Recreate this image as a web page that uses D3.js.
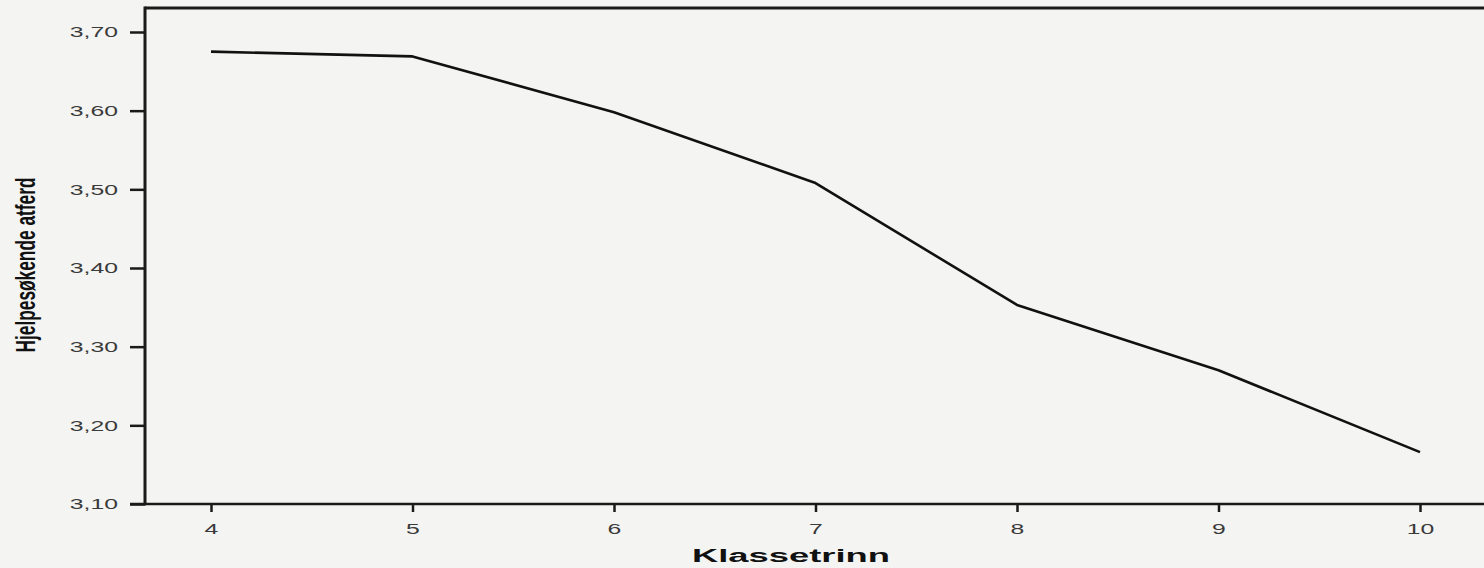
<!DOCTYPE html>
<html>
<head>
<meta charset="utf-8">
<script src="https://cdn.jsdelivr.net/npm/d3@7"></script>
<style>
html,body{margin:0;padding:0;background:#f4f4f2;}
svg{display:block;}
</style>
</head>
<body>
<svg id="c" width="1484" height="568"></svg>
<script>
const grades = [4, 5, 6, 7, 8, 9, 10];
const values = [3.675, 3.669, 3.598, 3.508, 3.353, 3.270, 3.166];
const yTicks = [3.10, 3.20, 3.30, 3.40, 3.50, 3.60, 3.70];
const xLabel = "Klassetrinn";
const yLabel = "Hjelpesøkende atferd";

const svg = d3.select("#c");
const mLeft = 145, mRight = 1484, mTop = 8, mBottom = 504;
const stretch = 1.65;

const x = d3.scaleLinear().domain([4, 10]).range([211, 1420]);
const y = d3.scaleLinear().domain([3.10, 3.70]).range([504, 32]);

const ink = "#1a1a1a";
const font = "'Liberation Sans', Arial, sans-serif";

// frame: top line
svg.append("line").attr("x1", mLeft).attr("x2", mRight).attr("y1", mTop).attr("y2", mTop)
  .attr("stroke", ink).attr("stroke-width", 3);

// y axis
const yAxis = d3.axisLeft(y).tickValues(yTicks).tickSize(15).tickPadding(12)
  .tickFormat(d => d3.format(".2f")(d).replace(".", ","));
const gy = svg.append("g").attr("transform", `translate(${mLeft},0)`).call(yAxis);
gy.select(".domain").remove();
gy.selectAll(".tick line").attr("stroke", ink).attr("stroke-width", 2.5);
gy.selectAll(".tick text").attr("fill", "#3a3a3a")
  .style("font-family", font).style("font-size", "15px")
  .attr("x", -27 / stretch).attr("transform", `scale(${stretch},1)`);
svg.append("line").attr("x1", mLeft).attr("x2", mLeft).attr("y1", mTop - 1.5).attr("y2", mBottom + 1.25)
  .attr("stroke", ink).attr("stroke-width", 3);

// x axis
const xAxis = d3.axisBottom(x).tickValues(grades).tickSize(8).tickPadding(11).tickFormat(d3.format("d"));
const gx = svg.append("g").attr("transform", `translate(0,${mBottom})`).call(xAxis);
gx.select(".domain").remove();
gx.selectAll(".tick line").attr("stroke", ink).attr("stroke-width", 2.5);
gx.selectAll(".tick text").attr("fill", "#3a3a3a")
  .style("font-family", font).style("font-size", "15px")
  .attr("transform", `scale(${stretch},1)`);
svg.append("line").attr("x1", mLeft - 15).attr("x2", mRight).attr("y1", mBottom).attr("y2", mBottom)
  .attr("stroke", ink).attr("stroke-width", 2.5);

// line
const line = d3.line().x((d, i) => x(grades[i])).y(d => y(d));
svg.append("path").datum(values).attr("d", line)
  .attr("fill", "none").attr("stroke", "#111").attr("stroke-width", 2.6).attr("stroke-linejoin", "round");

// x label
svg.append("text").attr("x", 791).attr("y", 562).attr("text-anchor", "middle")
  .style("font-family", font).style("font-weight", "bold").style("font-size", "18px")
  .attr("textLength", 198).attr("lengthAdjust", "spacingAndGlyphs")
  .attr("fill", "#111").text(xLabel);

// y label
svg.append("text").attr("transform", "translate(35,265) scale(2,1) rotate(-90)").attr("text-anchor", "middle")
  .style("font-family", "'Liberation Sans Narrow', 'Liberation Sans', Arial, sans-serif")
  .style("font-weight", "bold").style("font-size", "14px")
  .attr("textLength", 175).attr("lengthAdjust", "spacingAndGlyphs")
  .attr("fill", "#111").text(yLabel);
</script>
</body>
</html>
